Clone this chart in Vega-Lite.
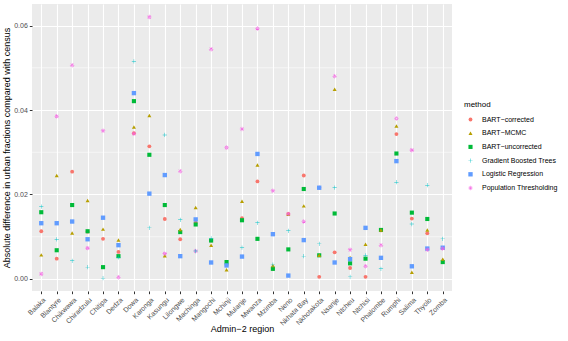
{
  "$schema": "https://vega.github.io/schema/vega-lite/v6.json",
  "width": 420,
  "height": 287,
  "autosize": {"type": "none"},
  "padding": {"left": 32, "top": 4, "right": 116, "bottom": 50},
  "background": "white",
  "config": {
    "font": "Liberation Sans",
    "view": {"fill": "#EBEBEB", "stroke": null},
    "axis": {
      "domain": false,
      "grid": true,
      "gridColor": "white",
      "gridWidth": 1.1,
      "tickColor": "#333333",
      "tickSize": 2.7,
      "tickWidth": 1,
      "labelFont": "Liberation Sans",
      "labelFontSize": 7,
      "labelColor": "#4D4D4D",
      "titleFont": "Liberation Sans",
      "titleFontSize": 9,
      "titleFontWeight": "normal",
      "titleColor": "black"
    }
  },
  "datasets": {
    "minor": [{"v": 0.01}, {"v": 0.03}, {"v": 0.05}],
    "pts": [
      {"region": "Chiradzulu", "method": "BART−corrected", "value": 0.0112},
      {"region": "Dowa", "method": "BART−corrected", "value": 0.0345},
      {"region": "Mangochi", "method": "BART−corrected", "value": 0.0091},
      {"region": "Mchinji", "method": "BART−corrected", "value": 0.0034},
      {"region": "Mchinji", "method": "Gradient Boosted Trees", "value": 0.0033},
      {"region": "Mzimba", "method": "BART−corrected", "value": 0.0024},
      {"region": "Neno", "method": "BART−corrected", "value": 0.0154},
      {"region": "Neno", "method": "BART−MCMC", "value": 0.0153},
      {"region": "Nkhotakota", "method": "Population Thresholding", "value": 0.0216},
      {"region": "Phalombe", "method": "BART−corrected", "value": 0.0115},
      {"region": "Zomba", "method": "BART−corrected", "value": 0.0073},

      {"region": "Balaka", "method": "BART−corrected", "value": 0.0113},
      {"region": "Blantyre", "method": "BART−corrected", "value": 0.0048},
      {"region": "Chikwawa", "method": "BART−corrected", "value": 0.0254},
      {"region": "Chitipa", "method": "BART−corrected", "value": 0.0095},
      {"region": "Dedza", "method": "BART−corrected", "value": 0.0064},
      {"region": "Karonga", "method": "BART−corrected", "value": 0.0314},
      {"region": "Kasungu", "method": "BART−corrected", "value": 0.0142},
      {"region": "Lilongwe", "method": "BART−corrected", "value": 0.0094},
      {"region": "Machinga", "method": "BART−corrected", "value": 0.0133},
      {"region": "Mulanje", "method": "BART−corrected", "value": 0.0144},
      {"region": "Mwanza", "method": "BART−corrected", "value": 0.0231},
      {"region": "Nkhata Bay", "method": "BART−corrected", "value": 0.0245},
      {"region": "Nkhotakota", "method": "BART−corrected", "value": 0.0005},
      {"region": "Nsanje", "method": "BART−corrected", "value": 0.0063},
      {"region": "Ntcheu", "method": "BART−corrected", "value": 0.0026},
      {"region": "Ntchisi", "method": "BART−corrected", "value": 0.0005},
      {"region": "Rumphi", "method": "BART−corrected", "value": 0.0343},
      {"region": "Salima", "method": "BART−corrected", "value": 0.0143},
      {"region": "Thyolo", "method": "BART−corrected", "value": 0.0108},

      {"region": "Balaka", "method": "BART−uncorrected", "value": 0.0158},
      {"region": "Blantyre", "method": "BART−uncorrected", "value": 0.0068},
      {"region": "Chikwawa", "method": "BART−uncorrected", "value": 0.0175},
      {"region": "Chiradzulu", "method": "BART−uncorrected", "value": 0.0113},
      {"region": "Chitipa", "method": "BART−uncorrected", "value": 0.0028},
      {"region": "Dedza", "method": "BART−uncorrected", "value": 0.0054},
      {"region": "Dowa", "method": "BART−uncorrected", "value": 0.0421},
      {"region": "Karonga", "method": "BART−uncorrected", "value": 0.0294},
      {"region": "Kasungu", "method": "BART−uncorrected", "value": 0.0175},
      {"region": "Lilongwe", "method": "BART−uncorrected", "value": 0.0111},
      {"region": "Machinga", "method": "BART−uncorrected", "value": 0.0129},
      {"region": "Mangochi", "method": "BART−uncorrected", "value": 0.0091},
      {"region": "Mchinji", "method": "BART−uncorrected", "value": 0.0040},
      {"region": "Mulanje", "method": "BART−uncorrected", "value": 0.0139},
      {"region": "Mwanza", "method": "BART−uncorrected", "value": 0.0095},
      {"region": "Mzimba", "method": "BART−uncorrected", "value": 0.0024},
      {"region": "Neno", "method": "BART−uncorrected", "value": 0.0070},
      {"region": "Nkhata Bay", "method": "BART−uncorrected", "value": 0.0213},
      {"region": "Nkhotakota", "method": "BART−uncorrected", "value": 0.0056},
      {"region": "Nsanje", "method": "BART−uncorrected", "value": 0.0155},
      {"region": "Ntcheu", "method": "BART−uncorrected", "value": 0.0037},
      {"region": "Ntchisi", "method": "BART−uncorrected", "value": 0.0048},
      {"region": "Phalombe", "method": "BART−uncorrected", "value": 0.0116},
      {"region": "Rumphi", "method": "BART−uncorrected", "value": 0.0297},
      {"region": "Salima", "method": "BART−uncorrected", "value": 0.0157},
      {"region": "Thyolo", "method": "BART−uncorrected", "value": 0.0142},
      {"region": "Zomba", "method": "BART−uncorrected", "value": 0.0040},

      {"region": "Balaka", "method": "BART−MCMC", "value": 0.0057},
      {"region": "Blantyre", "method": "BART−MCMC", "value": 0.0245},
      {"region": "Chikwawa", "method": "BART−MCMC", "value": 0.0109},
      {"region": "Chiradzulu", "method": "BART−MCMC", "value": 0.0186},
      {"region": "Chitipa", "method": "BART−MCMC", "value": 0.0118},
      {"region": "Dedza", "method": "BART−MCMC", "value": 0.0092},
      {"region": "Dowa", "method": "BART−MCMC", "value": 0.0360},
      {"region": "Karonga", "method": "BART−MCMC", "value": 0.0387},
      {"region": "Kasungu", "method": "BART−MCMC", "value": 0.0055},
      {"region": "Lilongwe", "method": "BART−MCMC", "value": 0.0117},
      {"region": "Machinga", "method": "BART−MCMC", "value": 0.0169},
      {"region": "Mangochi", "method": "BART−MCMC", "value": 0.0080},
      {"region": "Mchinji", "method": "BART−MCMC", "value": 0.0022},
      {"region": "Mulanje", "method": "BART−MCMC", "value": 0.0184},
      {"region": "Mwanza", "method": "BART−MCMC", "value": 0.0270},
      {"region": "Mzimba", "method": "BART−MCMC", "value": 0.0032},
      {"region": "Nkhata Bay", "method": "BART−MCMC", "value": 0.0173},
      {"region": "Nkhotakota", "method": "BART−MCMC", "value": 0.0056},
      {"region": "Nsanje", "method": "BART−MCMC", "value": 0.0449},
      {"region": "Ntcheu", "method": "BART−MCMC", "value": 0.0051},
      {"region": "Ntchisi", "method": "BART−MCMC", "value": 0.0082},
      {"region": "Phalombe", "method": "BART−MCMC", "value": 0.0116},
      {"region": "Rumphi", "method": "BART−MCMC", "value": 0.0362},
      {"region": "Salima", "method": "BART−MCMC", "value": 0.0016},
      {"region": "Thyolo", "method": "BART−MCMC", "value": 0.0116},
      {"region": "Zomba", "method": "BART−MCMC", "value": 0.0047},

      {"region": "Balaka", "method": "Logistic Regression", "value": 0.0132},
      {"region": "Blantyre", "method": "Logistic Regression", "value": 0.0132},
      {"region": "Chikwawa", "method": "Logistic Regression", "value": 0.0136},
      {"region": "Chiradzulu", "method": "Logistic Regression", "value": 0.0094},
      {"region": "Chitipa", "method": "Logistic Regression", "value": 0.0145},
      {"region": "Dedza", "method": "Logistic Regression", "value": 0.0080},
      {"region": "Dowa", "method": "Logistic Regression", "value": 0.0440},
      {"region": "Karonga", "method": "Logistic Regression", "value": 0.0202},
      {"region": "Kasungu", "method": "Logistic Regression", "value": 0.0246},
      {"region": "Lilongwe", "method": "Logistic Regression", "value": 0.0054},
      {"region": "Machinga", "method": "Logistic Regression", "value": 0.0141},
      {"region": "Mangochi", "method": "Logistic Regression", "value": 0.0039},
      {"region": "Mchinji", "method": "Logistic Regression", "value": 0.0032},
      {"region": "Mulanje", "method": "Logistic Regression", "value": 0.0053},
      {"region": "Mwanza", "method": "Logistic Regression", "value": 0.0296},
      {"region": "Mzimba", "method": "Logistic Regression", "value": 0.0106},
      {"region": "Neno", "method": "Logistic Regression", "value": 0.0008},
      {"region": "Nkhata Bay", "method": "Logistic Regression", "value": 0.0092},
      {"region": "Nkhotakota", "method": "Logistic Regression", "value": 0.0216},
      {"region": "Nsanje", "method": "Logistic Regression", "value": 0.0039},
      {"region": "Ntcheu", "method": "Logistic Regression", "value": 0.0047},
      {"region": "Ntchisi", "method": "Logistic Regression", "value": 0.0121},
      {"region": "Phalombe", "method": "Logistic Regression", "value": 0.0050},
      {"region": "Rumphi", "method": "Logistic Regression", "value": 0.0279},
      {"region": "Salima", "method": "Logistic Regression", "value": 0.0030},
      {"region": "Thyolo", "method": "Logistic Regression", "value": 0.0072},
      {"region": "Zomba", "method": "Logistic Regression", "value": 0.0074},

      {"region": "Balaka", "method": "Population Thresholding", "value": 0.0012},
      {"region": "Blantyre", "method": "Population Thresholding", "value": 0.0385},
      {"region": "Chikwawa", "method": "Population Thresholding", "value": 0.0506},
      {"region": "Chiradzulu", "method": "Population Thresholding", "value": 0.0073},
      {"region": "Chitipa", "method": "Population Thresholding", "value": 0.0351},
      {"region": "Dedza", "method": "Population Thresholding", "value": 0.0004},
      {"region": "Dowa", "method": "Population Thresholding", "value": 0.0344},
      {"region": "Karonga", "method": "Population Thresholding", "value": 0.0620},
      {"region": "Kasungu", "method": "Population Thresholding", "value": 0.0060},
      {"region": "Lilongwe", "method": "Population Thresholding", "value": 0.0255},
      {"region": "Machinga", "method": "Population Thresholding", "value": 0.0066},
      {"region": "Mangochi", "method": "Population Thresholding", "value": 0.0544},
      {"region": "Mchinji", "method": "Population Thresholding", "value": 0.0311},
      {"region": "Mulanje", "method": "Population Thresholding", "value": 0.0355},
      {"region": "Mwanza", "method": "Population Thresholding", "value": 0.0593},
      {"region": "Mzimba", "method": "Population Thresholding", "value": 0.0209},
      {"region": "Neno", "method": "Population Thresholding", "value": 0.0154},
      {"region": "Nkhata Bay", "method": "Population Thresholding", "value": 0.0136},
      {"region": "Nsanje", "method": "Population Thresholding", "value": 0.0480},
      {"region": "Ntcheu", "method": "Population Thresholding", "value": 0.0069},
      {"region": "Ntchisi", "method": "Population Thresholding", "value": 0.0030},
      {"region": "Phalombe", "method": "Population Thresholding", "value": 0.0080},
      {"region": "Rumphi", "method": "Population Thresholding", "value": 0.0380},
      {"region": "Salima", "method": "Population Thresholding", "value": 0.0305},
      {"region": "Thyolo", "method": "Population Thresholding", "value": 0.0069},
      {"region": "Zomba", "method": "Population Thresholding", "value": 0.0072},

      {"region": "Balaka", "method": "Gradient Boosted Trees", "value": 0.0171},
      {"region": "Blantyre", "method": "Gradient Boosted Trees", "value": 0.0094},
      {"region": "Chikwawa", "method": "Gradient Boosted Trees", "value": 0.0043},
      {"region": "Chiradzulu", "method": "Gradient Boosted Trees", "value": 0.0028},
      {"region": "Chitipa", "method": "Gradient Boosted Trees", "value": 0.0002},
      {"region": "Dedza", "method": "Gradient Boosted Trees", "value": 0.0051},
      {"region": "Dowa", "method": "Gradient Boosted Trees", "value": 0.0515},
      {"region": "Karonga", "method": "Gradient Boosted Trees", "value": 0.0121},
      {"region": "Kasungu", "method": "Gradient Boosted Trees", "value": 0.0341},
      {"region": "Lilongwe", "method": "Gradient Boosted Trees", "value": 0.0140},
      {"region": "Machinga", "method": "Gradient Boosted Trees", "value": 0.0066},
      {"region": "Mangochi", "method": "Gradient Boosted Trees", "value": 0.0096},
      {"region": "Mulanje", "method": "Gradient Boosted Trees", "value": 0.0074},
      {"region": "Mwanza", "method": "Gradient Boosted Trees", "value": 0.0133},
      {"region": "Mzimba", "method": "Gradient Boosted Trees", "value": 0.0034},
      {"region": "Neno", "method": "Gradient Boosted Trees", "value": 0.0114},
      {"region": "Nkhata Bay", "method": "Gradient Boosted Trees", "value": 0.0054},
      {"region": "Nkhotakota", "method": "Gradient Boosted Trees", "value": 0.0083},
      {"region": "Nsanje", "method": "Gradient Boosted Trees", "value": 0.0216},
      {"region": "Ntcheu", "method": "Gradient Boosted Trees", "value": 0.0005},
      {"region": "Ntchisi", "method": "Gradient Boosted Trees", "value": 0.0056},
      {"region": "Phalombe", "method": "Gradient Boosted Trees", "value": 0.0024},
      {"region": "Rumphi", "method": "Gradient Boosted Trees", "value": 0.0229},
      {"region": "Salima", "method": "Gradient Boosted Trees", "value": 0.0130},
      {"region": "Thyolo", "method": "Gradient Boosted Trees", "value": 0.0222},
      {"region": "Zomba", "method": "Gradient Boosted Trees", "value": 0.0095}
    ]
  },
  "layer": [
    {
      "data": {"name": "minor"},
      "mark": {"type": "rule", "color": "white", "strokeWidth": 0.55},
      "encoding": {
        "y": {"field": "v", "type": "quantitative", "scale": {"domain": [-0.00285, 0.0651], "nice": false, "zero": false}}
      }
    },
    {
      "data": {"name": "pts"},
      "mark": {"type": "point", "filled": true, "opacity": 1},
      "encoding": {
        "x": {
          "field": "region",
          "type": "nominal",
          "sort": ["Balaka","Blantyre","Chikwawa","Chiradzulu","Chitipa","Dedza","Dowa","Karonga","Kasungu","Lilongwe","Machinga","Mangochi","Mchinji","Mulanje","Mwanza","Mzimba","Neno","Nkhata Bay","Nkhotakota","Nsanje","Ntcheu","Ntchisi","Phalombe","Rumphi","Salima","Thyolo","Zomba"],
          "scale": {"type": "point", "padding": 0.6},
          "axis": {"title": "Admin−2 region", "labelAngle": -45, "labelAlign": "right", "labelBaseline": "top", "labelPadding": 2, "titlePadding": -2}
        },
        "y": {
          "field": "value",
          "type": "quantitative",
          "scale": {"domain": [-0.00285, 0.0651], "nice": false, "zero": false},
          "axis": {"title": "Absolute difference in urban fractions compared with census", "values": [0, 0.02, 0.04, 0.06], "format": ".2f", "labelPadding": 2, "titlePadding": 2}
        },
        "color": {
          "field": "method",
          "type": "nominal",
          "scale": {
            "domain": ["BART−corrected", "BART−MCMC", "BART−uncorrected", "Gradient Boosted Trees", "Logistic Regression", "Population Thresholding"],
            "range": ["#F8766D", "#B79F00", "#00BA38", "#00BFC4", "#619CFF", "#F564E3"]
          },
          "legend": {
            "title": "method",
            "orient": "none",
            "legendX": 432,
            "legendY": 97,
            "titleFontSize": 8,
            "titleFontWeight": "normal",
            "titleColor": "black",
            "titlePadding": 7,
            "labelFontSize": 7,
            "labelColor": "black",
            "rowPadding": 5.7,
            "symbolOffset": 3,
            "labelOffset": 8
          }
        },
        "shape": {
          "field": "method",
          "type": "nominal",
          "scale": {
            "domain": ["BART−corrected", "BART−MCMC", "BART−uncorrected", "Gradient Boosted Trees", "Logistic Regression", "Population Thresholding"],
            "range": [
              "circle",
              "triangle-up",
              "square",
              "M-1,-0.1H1V0.1H-1ZM-0.1,-1H0.1V1H-0.1Z",
              "square",
              "M-1,-0.12H1V0.12H-1ZM-0.12,-1H0.12V1H-0.12ZM-0.8,-0.63L0.63,0.8L0.8,0.63L-0.63,-0.8ZM0.63,-0.8L-0.8,0.63L-0.63,0.8L0.8,-0.63Z"
            ]
          }
        },
        "size": {
          "field": "method",
          "type": "nominal",
          "scale": {
            "domain": ["BART−corrected", "BART−MCMC", "BART−uncorrected", "Gradient Boosted Trees", "Logistic Regression", "Population Thresholding"],
            "range": [15, 20, 17, 36, 22, 34]
          },
          "legend": null
        }
      }
    }
  ]
}
